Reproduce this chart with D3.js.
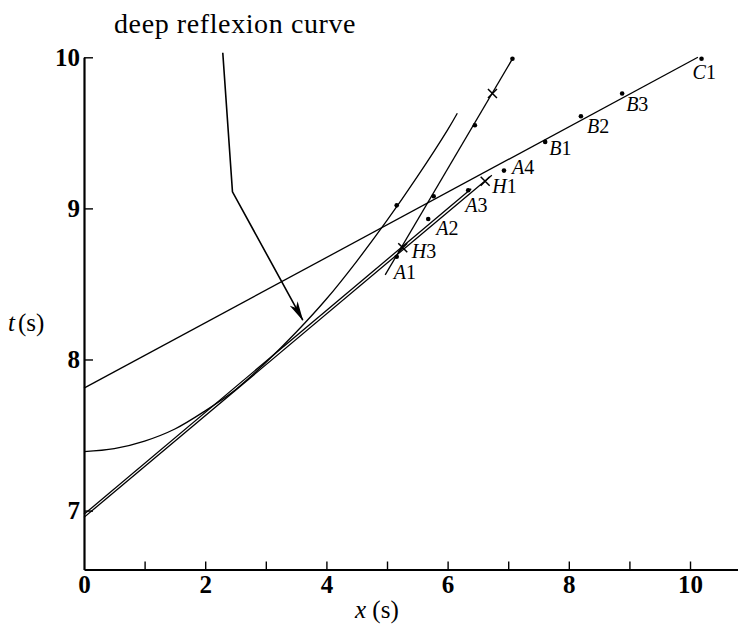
<!DOCTYPE html>
<html>
<head>
<meta charset="utf-8">
<script src="https://cdn.jsdelivr.net/npm/d3@7"></script>
<style>
  body { margin: 0; background: #fff; }
  text { font-family: "Liberation Serif", "DejaVu Serif", serif; fill: #000; }
</style>
</head>
<body>
<svg id="chart" width="738" height="629"></svg>
<script>
// Travel-time plot: offset x (s) against arrival time t (s)

const xTicks = [0, 1, 2, 3, 4, 5, 6, 7, 8, 9, 10];
const xTickLabels = ["0", "", "2", "", "4", "", "6", "", "8", "", "10"];
const yTicks = [7, 8, 9, 10];
const yTickLabels = ["7", "8", "9", "10"];

// straight branches [x, t]
const lineC = [[0, 7.81], [10.13, 10.0]];
const lineA = [[0, 6.975], [6.39, 9.13]];
const lineH = [[0, 6.955], [6.73, 9.22]];
const lineSteep = [[4.97, 8.56], [7.07, 9.99]];

// deep reflexion curve
const curveX = [0, 0.5, 1, 1.5, 2, 2.5, 3, 3.5, 4, 4.5, 5, 5.5, 6, 6.16];
const curveT = [7.39, 7.41, 7.46, 7.54, 7.66, 7.80, 7.98, 8.18, 8.40, 8.65, 8.92, 9.21, 9.52, 9.63];

// annotation arrow for the curve title
const arrowPath = [[2.29, 10.03], [2.45, 9.11], [3.61, 8.26]];
const titleText = "deep reflexion curve";

// labelled observations
const pointNames = ["A1", "A2", "A3", "A4", "B1", "B2", "B3", "C1", "H1", "H3"];
const pointX = [5.16, 5.68, 6.34, 6.93, 7.61, 8.20, 8.88, 10.19, 6.62, 5.26];
const pointT = [8.68, 8.93, 9.12, 9.25, 9.44, 9.61, 9.76, 9.99, 9.18, 8.74];
const pointKind = ["dot", "dot", "dot", "dot", "dot", "dot", "dot", "dot", "cross", "cross"];

// unlabelled observations
const extraDotX = [5.16, 5.77, 6.45, 7.07];
const extraDotT = [9.02, 9.08, 9.55, 9.99];
const extraCrossX = [6.74];
const extraCrossT = [9.76];

// label placement (pixel offsets from the mark to the text baseline start)
const labelOffset = {
  A1: [-3, 22], A2: [8, 16], A3: [-3, 22], A4: [8, 3],
  B1: [4, 13], B2: [6, 17], B3: [4, 17], C1: [-9, 20],
  H1: [7, 12], H3: [9, 10]
};

const svg = d3.select("#chart");

const x = d3.scaleLinear().domain([0, 10.8]).range([84, 738.5]);
const y = d3.scaleLinear().domain([6.61, 10]).range([569.5, 57.3]);

// axes
const xAxis = d3.axisBottom(x)
  .tickValues(xTicks)
  .tickSize(-8)
  .tickSizeOuter(0)
  .tickPadding(6)
  .tickFormat((d, i) => xTickLabels[i]);

const yAxis = d3.axisLeft(y)
  .tickValues(yTicks)
  .tickSize(-9)
  .tickSizeOuter(0)
  .tickPadding(4)
  .tickFormat((d, i) => yTickLabels[i]);

const gx = svg.append("g").attr("transform", `translate(0,${y.range()[0]})`).call(xAxis);
const gy = svg.append("g").attr("transform", `translate(${x.range()[0]},0)`).call(yAxis);

[gx, gy].forEach(g => {
  g.select(".domain").attr("stroke", "#000").attr("stroke-width", 2.2);
  g.selectAll(".tick line").attr("stroke", "#000").attr("stroke-width", 1.4);
  g.selectAll(".tick text")
    .attr("font-family", "'Liberation Serif', serif")
    .attr("font-weight", "bold")
    .attr("font-size", 25)
    .attr("fill", "#000");
});
gx.selectAll(".tick").filter(d => d === 0).select("line").remove();

// axis titles
const xt = svg.append("text").attr("x", 355).attr("y", 618).attr("font-size", 25);
xt.append("tspan").attr("font-style", "italic").text("x");
xt.append("tspan").text(" (s)");

const yt = svg.append("text").attr("x", 8).attr("y", 331).attr("font-size", 25);
yt.append("tspan").attr("font-style", "italic").text("t");
yt.append("tspan").attr("dx", 3).text("(s)");

// lines
const line = d3.line().x(d => x(d[0])).y(d => y(d[1]));
const plot = svg.append("g").attr("fill", "none").attr("stroke", "#000").attr("stroke-width", 1.3);

[lineC, lineA, lineH, lineSteep].forEach(seg => {
  plot.append("path").attr("d", line(seg));
});

const curvePts = curveX.map((v, i) => [v, curveT[i]]);
plot.append("path")
  .attr("d", d3.line().x(d => x(d[0])).y(d => y(d[1])).curve(d3.curveCatmullRom)(curvePts));

// arrow annotation
const defs = svg.append("defs");
defs.append("marker")
  .attr("id", "head")
  .attr("viewBox", "0 -5 20 10")
  .attr("refX", 19).attr("refY", 0)
  .attr("markerWidth", 20).attr("markerHeight", 10)
  .attr("markerUnits", "userSpaceOnUse")
  .attr("orient", "auto")
  .append("path")
  .attr("d", "M0,-4.5L20,0L0,4.5L5,0Z")
  .attr("fill", "#000");

svg.append("path")
  .attr("d", line(arrowPath))
  .attr("fill", "none")
  .attr("stroke", "#000")
  .attr("stroke-width", 1.6)
  .attr("marker-end", "url(#head)");

svg.append("text")
  .attr("x", 114).attr("y", 33)
  .attr("font-size", 28)
  .attr("letter-spacing", 0.6)
  .text(titleText);

// markers
const marks = svg.append("g");
function dot(px, pt) {
  marks.append("circle").attr("cx", x(px)).attr("cy", y(pt)).attr("r", 2.3).attr("fill", "#000");
}
function cross(px, pt) {
  const cx = x(px), cy = y(pt), s = 4.5;
  marks.append("path")
    .attr("d", `M${cx - s},${cy - s}L${cx + s},${cy + s}M${cx - s},${cy + s}L${cx + s},${cy - s}`)
    .attr("stroke", "#000").attr("stroke-width", 1.5).attr("fill", "none");
}

extraDotX.forEach((v, i) => dot(v, extraDotT[i]));
extraCrossX.forEach((v, i) => cross(v, extraCrossT[i]));

pointNames.forEach((name, i) => {
  if (pointKind[i] === "dot") dot(pointX[i], pointT[i]); else cross(pointX[i], pointT[i]);
  const off = labelOffset[name];
  const t = svg.append("text")
    .attr("x", x(pointX[i]) + off[0])
    .attr("y", y(pointT[i]) + off[1])
    .attr("font-size", 20);
  t.append("tspan").attr("font-style", "italic").text(name[0]);
  t.append("tspan").text(name.slice(1));
});
</script>
</body>
</html>
